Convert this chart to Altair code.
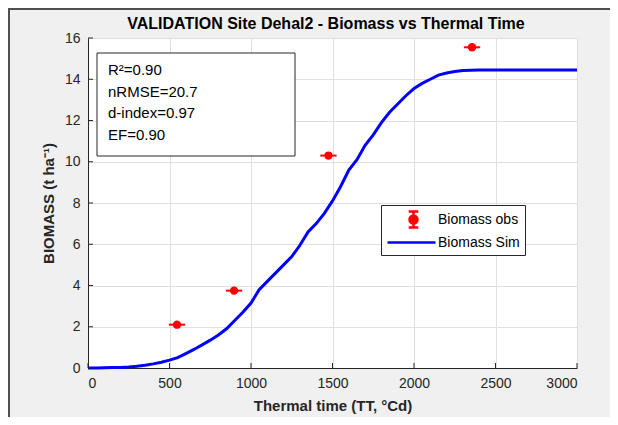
import altair as alt
import pandas as pd

# ---- data ----
tt_sim = [0, 50, 100, 150, 200, 250, 300, 350, 400, 450, 500, 550, 600, 650, 700, 750,
          800, 850, 900, 950, 1000, 1050, 1100, 1150, 1200, 1250, 1300, 1350, 1400, 1450,
          1500, 1550, 1600, 1650, 1700, 1750, 1800, 1850, 1900, 1950, 2000, 2050, 2100,
          2150, 2200, 2250, 2300, 2350, 2400, 2500, 2600, 2700, 2800, 2900, 3000]
bio_sim = [0.0, 0.0, 0.01, 0.02, 0.03, 0.05, 0.08, 0.13, 0.2, 0.28, 0.38, 0.5, 0.7, 0.9,
           1.12, 1.35, 1.6, 1.9, 2.3, 2.7, 3.15, 3.8, 4.2, 4.6, 5.0, 5.4, 5.95, 6.6, 7.0,
           7.5, 8.1, 8.8, 9.6, 10.1, 10.8, 11.3, 11.9, 12.4, 12.8, 13.2, 13.55, 13.8, 14.0,
           14.2, 14.3, 14.38, 14.42, 14.44, 14.45, 14.45, 14.45, 14.45, 14.45, 14.45, 14.45]
tt_obs = [546, 896, 1475, 2356]
bio_obs = [2.1, 3.75, 10.3, 15.55]
tt_err = [50, 50, 50, 50]
x_ticks = [0, 500, 1000, 1500, 2000, 2500, 3000]
y_ticks = [0, 2, 4, 6, 8, 10, 12, 14, 16]
stats_lines = ["R\u00b2=0.90", "nRMSE=20.7", "d-index=0.97", "EF=0.90"]
legend_labels = ["Biomass obs", "Biomass Sim"]
legend_colors = ["#ff0000", "#0000ff"]
title_text = "VALIDATION Site Dehal2 - Biomass vs Thermal Time"

FONT = "Liberation Sans"
AX = "#262626"
W, H = 489, 330
PAD = {"left": 80, "top": 30, "right": 33, "bottom": 49}

sim = pd.DataFrame({"tt": tt_sim, "bio": bio_sim})
obs = pd.DataFrame({"tt": tt_obs, "bio": bio_obs, "err": tt_err})
obs["lo"] = obs["tt"] - obs["err"]
obs["hi"] = obs["tt"] + obs["err"]
xt = pd.DataFrame({"t": x_ticks})
yt = pd.DataFrame({"t": y_ticks})
one = pd.DataFrame({"a": [0]})
stats = pd.DataFrame({"txt": ["\n".join(stats_lines)]})
ttl = pd.DataFrame({"txt": [title_text]})
leg = pd.DataFrame({"series": legend_labels, "tt": [-500, -500], "bio": [1, 1]})

xscale = alt.Scale(domain=[0, 3000], nice=False, zero=False)
yscale = alt.Scale(domain=[0, 16], nice=False)

xaxis = alt.Axis(title="Thermal time (TT, \u00b0Cd)", values=x_ticks, format="d",
                 ticks=False, tickSize=0, labelPadding=8, titlePadding=8)
yaxis = alt.Axis(title="BIOMASS (t ha\u207b\u00b9)", values=y_ticks, format="d",
                 ticks=False, tickSize=0, labelPadding=8, titlePadding=8)

base_x = alt.X("tt:Q", scale=xscale, axis=xaxis)
base_y = alt.Y("bio:Q", scale=yscale, axis=yaxis)

line = alt.Chart(sim).mark_line(color="#0000ff", strokeWidth=3).encode(x=base_x, y=base_y)

err = alt.Chart(obs).mark_rule(color="#ff0000", strokeWidth=2).encode(
    x=alt.X("lo:Q", scale=xscale, axis=xaxis), x2="hi:Q", y=base_y)
pts = alt.Chart(obs).mark_circle(color="#ff0000", size=70, opacity=1).encode(x=base_x, y=base_y)

xtick = alt.Chart(xt).mark_rule(color=AX, strokeWidth=1).encode(
    x=alt.X("t:Q", scale=xscale, axis=xaxis), y=alt.value(H), y2=alt.value(H - 5))
ytick = alt.Chart(yt).mark_rule(color=AX, strokeWidth=1).encode(
    y=alt.Y("t:Q", scale=yscale, axis=yaxis), x=alt.value(0), x2=alt.value(5))

box = alt.Chart(one).mark_rect(fill="white", stroke=AX, strokeWidth=1).encode(
    x=alt.value(9), x2=alt.value(207), y=alt.value(15), y2=alt.value(118))
txt = alt.Chart(stats).mark_text(align="left", baseline="top", font=FONT, fontSize=15,
                                 color="black", lineBreak="\n", lineHeight=21.5).encode(
    x=alt.value(20), y=alt.value(25), text="txt:N")

title = alt.Chart(ttl).mark_text(align="center", baseline="alphabetic", font=FONT,
                                 fontSize=16, fontWeight="bold", color="black").encode(
    x=alt.value(238), y=alt.value(-9), text="txt:N")

frame_l = alt.Chart(one).mark_rule(color="#505050", strokeWidth=2).encode(
    x=alt.value(-79), y=alt.value(-30), y2=alt.value(H + PAD["bottom"]))
frame_t = alt.Chart(one).mark_rule(color="#505050", strokeWidth=2).encode(
    y=alt.value(-29), x=alt.value(-80), x2=alt.value(W + PAD["right"]))

errbar_shape = ("M2.25,-1V1M1.65,-1H2.85M1.65,1H2.85"
                "M1.75,0A0.5,0.5,0,1,0,2.75,0A0.5,0.5,0,1,0,1.75,0Z")
line_shape = "M-1,0H5"

legend = alt.Legend(orient="none", legendX=293, legendY=167, title=None,
                    fillColor="white", strokeColor=AX, padding=5,
                    symbolSize=256, symbolStrokeWidth=2.5, symbolOpacity=1,
                    labelFontSize=14, labelColor="black", labelFont=FONT,
                    labelOffset=33, rowPadding=-2)
sdom = alt.Scale(domain=legend_labels, range=legend_colors)
legend_layer = alt.Chart(leg).mark_point(filled=True, clip=True, strokeWidth=2.5).encode(
    x=base_x, y=base_y,
    shape=alt.Shape("series:N", scale=alt.Scale(domain=legend_labels,
                                                range=[errbar_shape, line_shape]),
                    legend=legend),
    fill=alt.Fill("series:N", scale=sdom, legend=legend),
    stroke=alt.Stroke("series:N", scale=sdom, legend=legend),
)

chart = alt.layer(frame_l, frame_t, title, line, err, pts, xtick, ytick, box, txt,
                  legend_layer).properties(
    width=W, height=H,
    autosize=alt.AutoSizeParams(type="none"),
    padding=PAD,
    background="#f0f0f0",
).configure_view(fill="white", stroke=None).configure_axis(
    labelFont=FONT, labelFontSize=14, labelColor=AX,
    titleFont=FONT, titleFontSize=15, titleFontWeight="bold", titleColor=AX,
    domainColor=AX, domainWidth=1, gridColor="#dfdfdf", gridWidth=1,
)

chart.save("out.html", embed_options={"renderer": "svg", "actions": False})
